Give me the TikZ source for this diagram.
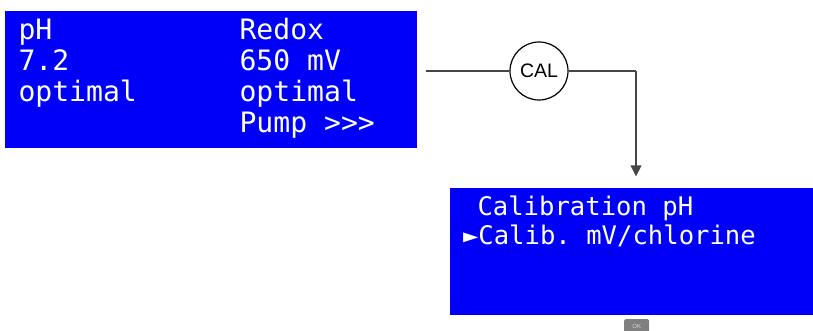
\documentclass[tikz,border=0pt]{standalone}
\usepackage{fontspec}
\setmainfont{Liberation Sans}
\newfontfamily\lcd{DejaVu Sans Mono}
\usetikzlibrary{arrows.meta}
\definecolor{lcdblue}{RGB}{0,0,250}
\definecolor{linegray}{RGB}{70,70,70}
\tikzset{
  screen/.style={fill=lcdblue,draw=none,inner sep=0pt,outer sep=0pt,anchor=north west},
  lcdtext/.style={text=white,font=\lcd\frenchspacing\fontsize{28.1}{31}\selectfont,inner sep=0pt,outer sep=0pt,anchor=base west},
  lcdsmall/.style={text=white,font=\lcd\frenchspacing\fontsize{25.6}{29}\selectfont,inner sep=0pt,outer sep=0pt,anchor=base west},
  wire/.style={draw=linegray,line width=1.5pt},
  wirev/.style={draw=linegray,line width=2pt},
  calbubble/.style={circle,draw=black,line width=1.2pt,fill=white,minimum size=58pt,inner sep=0pt,font=\fontsize{19.5}{22}\selectfont,text=black},
  okbtn/.style={fill=black!50,rounded corners=1.5pt,text=black!15,font=\fontsize{6}{7}\selectfont,inner sep=0pt,minimum width=25pt,minimum height=14pt,anchor=north west}
}
\begin{document}
\begin{tikzpicture}[x=1pt,y=-1pt]
\useasboundingbox (0,0) rectangle (813,331);
\node[screen,minimum width=412pt,minimum height=137pt] (main) at (5,11) {};
\node[screen,minimum width=363pt,minimum height=127pt] (calib) at (450,188) {};
\node[lcdtext] (t1) at (18.5,39.5) {pH};
\node[lcdtext] (t2) at (18.5,70.5) {7.2};
\node[lcdtext] (t3) at (18.5,101.5) {optimal};
\node[lcdtext] (t4) at (239.5,39.5) {Redox};
\node[lcdtext] (t5) at (239.5,70.5) {650 mV};
\node[lcdtext] (t6) at (239.5,101.5) {optimal};
\node[lcdtext] (t7) at (239.5,132.5) {Pump >>>};
\node[lcdsmall] (t8) at (477.5,215) {Calibration pH};
\node[lcdsmall] (t9) at (463,244) {►Calib. mV/chlorine};
\node[calbubble] (cal) at (539,71) {CAL};
\coordinate (start) at (426,71);
\coordinate (corner) at (636,71);
\coordinate (tip) at (636,176.5);
\draw[wire] (start) -- (cal);
\draw[wire] (cal) -- (corner);
\draw[wirev,-{Triangle[length=11pt,width=10.5pt]}] (corner) -- (tip);
\node[okbtn] (ok) at (624,319) {OK};
\end{tikzpicture}
\end{document}
